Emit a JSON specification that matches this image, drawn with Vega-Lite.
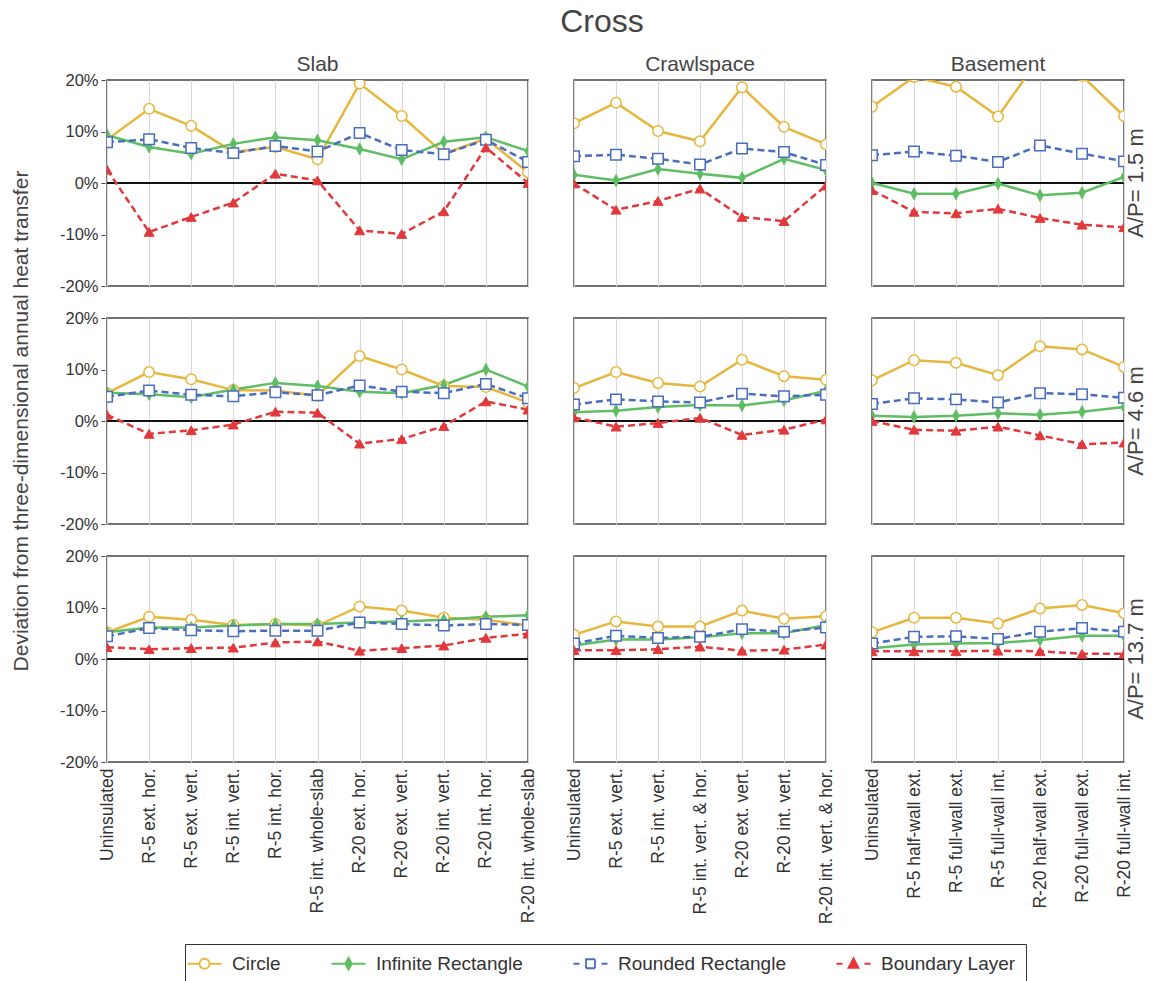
{
  "$schema": "https://vega.github.io/schema/vega-lite/v6.json",
  "background": "white",
  "padding": {"left": 10, "right": 0, "top": 6, "bottom": 0},
  "title": {"text": "Cross", "fontSize": 32, "fontWeight": "normal", "color": "#444", "anchor": "middle", "offset": 15, "dx": 23},
  "data": {"values": [
    {"f":"Slab","ap":1.5,"s":"Circle","c":"Uninsulated","v":8.4},
    {"f":"Slab","ap":1.5,"s":"Circle","c":"R-5 ext. hor.","v":14.4},
    {"f":"Slab","ap":1.5,"s":"Circle","c":"R-5 ext. vert.","v":11.1},
    {"f":"Slab","ap":1.5,"s":"Circle","c":"R-5 int. vert.","v":6.0},
    {"f":"Slab","ap":1.5,"s":"Circle","c":"R-5 int. hor.","v":7.0},
    {"f":"Slab","ap":1.5,"s":"Circle","c":"R-5 int. whole-slab","v":4.6},
    {"f":"Slab","ap":1.5,"s":"Circle","c":"R-20 ext. hor.","v":19.3},
    {"f":"Slab","ap":1.5,"s":"Circle","c":"R-20 ext. vert.","v":13.0},
    {"f":"Slab","ap":1.5,"s":"Circle","c":"R-20 int. vert.","v":5.7},
    {"f":"Slab","ap":1.5,"s":"Circle","c":"R-20 int. hor.","v":8.6},
    {"f":"Slab","ap":1.5,"s":"Circle","c":"R-20 int. whole-slab","v":2.1},
    {"f":"Slab","ap":1.5,"s":"Infinite Rectangle","c":"Uninsulated","v":9.3},
    {"f":"Slab","ap":1.5,"s":"Infinite Rectangle","c":"R-5 ext. hor.","v":7.0},
    {"f":"Slab","ap":1.5,"s":"Infinite Rectangle","c":"R-5 ext. vert.","v":5.7},
    {"f":"Slab","ap":1.5,"s":"Infinite Rectangle","c":"R-5 int. vert.","v":7.6},
    {"f":"Slab","ap":1.5,"s":"Infinite Rectangle","c":"R-5 int. hor.","v":8.9},
    {"f":"Slab","ap":1.5,"s":"Infinite Rectangle","c":"R-5 int. whole-slab","v":8.3},
    {"f":"Slab","ap":1.5,"s":"Infinite Rectangle","c":"R-20 ext. hor.","v":6.6},
    {"f":"Slab","ap":1.5,"s":"Infinite Rectangle","c":"R-20 ext. vert.","v":4.6},
    {"f":"Slab","ap":1.5,"s":"Infinite Rectangle","c":"R-20 int. vert.","v":8.0},
    {"f":"Slab","ap":1.5,"s":"Infinite Rectangle","c":"R-20 int. hor.","v":8.9},
    {"f":"Slab","ap":1.5,"s":"Infinite Rectangle","c":"R-20 int. whole-slab","v":6.2},
    {"f":"Slab","ap":1.5,"s":"Rounded Rectangle","c":"Uninsulated","v":7.9},
    {"f":"Slab","ap":1.5,"s":"Rounded Rectangle","c":"R-5 ext. hor.","v":8.5},
    {"f":"Slab","ap":1.5,"s":"Rounded Rectangle","c":"R-5 ext. vert.","v":6.8},
    {"f":"Slab","ap":1.5,"s":"Rounded Rectangle","c":"R-5 int. vert.","v":5.8},
    {"f":"Slab","ap":1.5,"s":"Rounded Rectangle","c":"R-5 int. hor.","v":7.2},
    {"f":"Slab","ap":1.5,"s":"Rounded Rectangle","c":"R-5 int. whole-slab","v":6.1},
    {"f":"Slab","ap":1.5,"s":"Rounded Rectangle","c":"R-20 ext. hor.","v":9.7},
    {"f":"Slab","ap":1.5,"s":"Rounded Rectangle","c":"R-20 ext. vert.","v":6.4},
    {"f":"Slab","ap":1.5,"s":"Rounded Rectangle","c":"R-20 int. vert.","v":5.6},
    {"f":"Slab","ap":1.5,"s":"Rounded Rectangle","c":"R-20 int. hor.","v":8.4},
    {"f":"Slab","ap":1.5,"s":"Rounded Rectangle","c":"R-20 int. whole-slab","v":4.1},
    {"f":"Slab","ap":1.5,"s":"Boundary Layer","c":"Uninsulated","v":2.6},
    {"f":"Slab","ap":1.5,"s":"Boundary Layer","c":"R-5 ext. hor.","v":-9.5},
    {"f":"Slab","ap":1.5,"s":"Boundary Layer","c":"R-5 ext. vert.","v":-6.6},
    {"f":"Slab","ap":1.5,"s":"Boundary Layer","c":"R-5 int. vert.","v":-3.8},
    {"f":"Slab","ap":1.5,"s":"Boundary Layer","c":"R-5 int. hor.","v":1.8},
    {"f":"Slab","ap":1.5,"s":"Boundary Layer","c":"R-5 int. whole-slab","v":0.5},
    {"f":"Slab","ap":1.5,"s":"Boundary Layer","c":"R-20 ext. hor.","v":-9.2},
    {"f":"Slab","ap":1.5,"s":"Boundary Layer","c":"R-20 ext. vert.","v":-9.9},
    {"f":"Slab","ap":1.5,"s":"Boundary Layer","c":"R-20 int. vert.","v":-5.5},
    {"f":"Slab","ap":1.5,"s":"Boundary Layer","c":"R-20 int. hor.","v":6.9},
    {"f":"Slab","ap":1.5,"s":"Boundary Layer","c":"R-20 int. whole-slab","v":0.0},

    {"f":"Slab","ap":4.6,"s":"Circle","c":"Uninsulated","v":5.4},
    {"f":"Slab","ap":4.6,"s":"Circle","c":"R-5 ext. hor.","v":9.5},
    {"f":"Slab","ap":4.6,"s":"Circle","c":"R-5 ext. vert.","v":8.1},
    {"f":"Slab","ap":4.6,"s":"Circle","c":"R-5 int. vert.","v":6.0},
    {"f":"Slab","ap":4.6,"s":"Circle","c":"R-5 int. hor.","v":5.9},
    {"f":"Slab","ap":4.6,"s":"Circle","c":"R-5 int. whole-slab","v":4.9},
    {"f":"Slab","ap":4.6,"s":"Circle","c":"R-20 ext. hor.","v":12.6},
    {"f":"Slab","ap":4.6,"s":"Circle","c":"R-20 ext. vert.","v":10.0},
    {"f":"Slab","ap":4.6,"s":"Circle","c":"R-20 int. vert.","v":6.8},
    {"f":"Slab","ap":4.6,"s":"Circle","c":"R-20 int. hor.","v":6.6},
    {"f":"Slab","ap":4.6,"s":"Circle","c":"R-20 int. whole-slab","v":3.6},
    {"f":"Slab","ap":4.6,"s":"Infinite Rectangle","c":"Uninsulated","v":5.5},
    {"f":"Slab","ap":4.6,"s":"Infinite Rectangle","c":"R-5 ext. hor.","v":5.2},
    {"f":"Slab","ap":4.6,"s":"Infinite Rectangle","c":"R-5 ext. vert.","v":4.6},
    {"f":"Slab","ap":4.6,"s":"Infinite Rectangle","c":"R-5 int. vert.","v":6.1},
    {"f":"Slab","ap":4.6,"s":"Infinite Rectangle","c":"R-5 int. hor.","v":7.4},
    {"f":"Slab","ap":4.6,"s":"Infinite Rectangle","c":"R-5 int. whole-slab","v":6.8},
    {"f":"Slab","ap":4.6,"s":"Infinite Rectangle","c":"R-20 ext. hor.","v":5.7},
    {"f":"Slab","ap":4.6,"s":"Infinite Rectangle","c":"R-20 ext. vert.","v":5.4},
    {"f":"Slab","ap":4.6,"s":"Infinite Rectangle","c":"R-20 int. vert.","v":7.0},
    {"f":"Slab","ap":4.6,"s":"Infinite Rectangle","c":"R-20 int. hor.","v":10.0},
    {"f":"Slab","ap":4.6,"s":"Infinite Rectangle","c":"R-20 int. whole-slab","v":6.7},
    {"f":"Slab","ap":4.6,"s":"Rounded Rectangle","c":"Uninsulated","v":4.7},
    {"f":"Slab","ap":4.6,"s":"Rounded Rectangle","c":"R-5 ext. hor.","v":5.9},
    {"f":"Slab","ap":4.6,"s":"Rounded Rectangle","c":"R-5 ext. vert.","v":5.1},
    {"f":"Slab","ap":4.6,"s":"Rounded Rectangle","c":"R-5 int. vert.","v":4.8},
    {"f":"Slab","ap":4.6,"s":"Rounded Rectangle","c":"R-5 int. hor.","v":5.6},
    {"f":"Slab","ap":4.6,"s":"Rounded Rectangle","c":"R-5 int. whole-slab","v":5.0},
    {"f":"Slab","ap":4.6,"s":"Rounded Rectangle","c":"R-20 ext. hor.","v":6.9},
    {"f":"Slab","ap":4.6,"s":"Rounded Rectangle","c":"R-20 ext. vert.","v":5.7},
    {"f":"Slab","ap":4.6,"s":"Rounded Rectangle","c":"R-20 int. vert.","v":5.4},
    {"f":"Slab","ap":4.6,"s":"Rounded Rectangle","c":"R-20 int. hor.","v":7.2},
    {"f":"Slab","ap":4.6,"s":"Rounded Rectangle","c":"R-20 int. whole-slab","v":4.4},
    {"f":"Slab","ap":4.6,"s":"Boundary Layer","c":"Uninsulated","v":1.2},
    {"f":"Slab","ap":4.6,"s":"Boundary Layer","c":"R-5 ext. hor.","v":-2.5},
    {"f":"Slab","ap":4.6,"s":"Boundary Layer","c":"R-5 ext. vert.","v":-1.8},
    {"f":"Slab","ap":4.6,"s":"Boundary Layer","c":"R-5 int. vert.","v":-0.7},
    {"f":"Slab","ap":4.6,"s":"Boundary Layer","c":"R-5 int. hor.","v":1.8},
    {"f":"Slab","ap":4.6,"s":"Boundary Layer","c":"R-5 int. whole-slab","v":1.6},
    {"f":"Slab","ap":4.6,"s":"Boundary Layer","c":"R-20 ext. hor.","v":-4.4},
    {"f":"Slab","ap":4.6,"s":"Boundary Layer","c":"R-20 ext. vert.","v":-3.5},
    {"f":"Slab","ap":4.6,"s":"Boundary Layer","c":"R-20 int. vert.","v":-1.0},
    {"f":"Slab","ap":4.6,"s":"Boundary Layer","c":"R-20 int. hor.","v":3.8},
    {"f":"Slab","ap":4.6,"s":"Boundary Layer","c":"R-20 int. whole-slab","v":2.2},

    {"f":"Slab","ap":13.7,"s":"Circle","c":"Uninsulated","v":5.2},
    {"f":"Slab","ap":13.7,"s":"Circle","c":"R-5 ext. hor.","v":8.2},
    {"f":"Slab","ap":13.7,"s":"Circle","c":"R-5 ext. vert.","v":7.6},
    {"f":"Slab","ap":13.7,"s":"Circle","c":"R-5 int. vert.","v":6.6},
    {"f":"Slab","ap":13.7,"s":"Circle","c":"R-5 int. hor.","v":6.8},
    {"f":"Slab","ap":13.7,"s":"Circle","c":"R-5 int. whole-slab","v":6.5},
    {"f":"Slab","ap":13.7,"s":"Circle","c":"R-20 ext. hor.","v":10.2},
    {"f":"Slab","ap":13.7,"s":"Circle","c":"R-20 ext. vert.","v":9.4},
    {"f":"Slab","ap":13.7,"s":"Circle","c":"R-20 int. vert.","v":8.0},
    {"f":"Slab","ap":13.7,"s":"Circle","c":"R-20 int. hor.","v":7.6},
    {"f":"Slab","ap":13.7,"s":"Circle","c":"R-20 int. whole-slab","v":6.5},
    {"f":"Slab","ap":13.7,"s":"Infinite Rectangle","c":"Uninsulated","v":5.2},
    {"f":"Slab","ap":13.7,"s":"Infinite Rectangle","c":"R-5 ext. hor.","v":6.1},
    {"f":"Slab","ap":13.7,"s":"Infinite Rectangle","c":"R-5 ext. vert.","v":6.1},
    {"f":"Slab","ap":13.7,"s":"Infinite Rectangle","c":"R-5 int. vert.","v":6.5},
    {"f":"Slab","ap":13.7,"s":"Infinite Rectangle","c":"R-5 int. hor.","v":6.8},
    {"f":"Slab","ap":13.7,"s":"Infinite Rectangle","c":"R-5 int. whole-slab","v":6.8},
    {"f":"Slab","ap":13.7,"s":"Infinite Rectangle","c":"R-20 ext. hor.","v":7.1},
    {"f":"Slab","ap":13.7,"s":"Infinite Rectangle","c":"R-20 ext. vert.","v":7.3},
    {"f":"Slab","ap":13.7,"s":"Infinite Rectangle","c":"R-20 int. vert.","v":7.6},
    {"f":"Slab","ap":13.7,"s":"Infinite Rectangle","c":"R-20 int. hor.","v":8.2},
    {"f":"Slab","ap":13.7,"s":"Infinite Rectangle","c":"R-20 int. whole-slab","v":8.5},
    {"f":"Slab","ap":13.7,"s":"Rounded Rectangle","c":"Uninsulated","v":4.4},
    {"f":"Slab","ap":13.7,"s":"Rounded Rectangle","c":"R-5 ext. hor.","v":6.0},
    {"f":"Slab","ap":13.7,"s":"Rounded Rectangle","c":"R-5 ext. vert.","v":5.6},
    {"f":"Slab","ap":13.7,"s":"Rounded Rectangle","c":"R-5 int. vert.","v":5.4},
    {"f":"Slab","ap":13.7,"s":"Rounded Rectangle","c":"R-5 int. hor.","v":5.5},
    {"f":"Slab","ap":13.7,"s":"Rounded Rectangle","c":"R-5 int. whole-slab","v":5.5},
    {"f":"Slab","ap":13.7,"s":"Rounded Rectangle","c":"R-20 ext. hor.","v":7.1},
    {"f":"Slab","ap":13.7,"s":"Rounded Rectangle","c":"R-20 ext. vert.","v":6.8},
    {"f":"Slab","ap":13.7,"s":"Rounded Rectangle","c":"R-20 int. vert.","v":6.5},
    {"f":"Slab","ap":13.7,"s":"Rounded Rectangle","c":"R-20 int. hor.","v":6.8},
    {"f":"Slab","ap":13.7,"s":"Rounded Rectangle","c":"R-20 int. whole-slab","v":6.6},
    {"f":"Slab","ap":13.7,"s":"Boundary Layer","c":"Uninsulated","v":2.3},
    {"f":"Slab","ap":13.7,"s":"Boundary Layer","c":"R-5 ext. hor.","v":1.9},
    {"f":"Slab","ap":13.7,"s":"Boundary Layer","c":"R-5 ext. vert.","v":2.1},
    {"f":"Slab","ap":13.7,"s":"Boundary Layer","c":"R-5 int. vert.","v":2.2},
    {"f":"Slab","ap":13.7,"s":"Boundary Layer","c":"R-5 int. hor.","v":3.2},
    {"f":"Slab","ap":13.7,"s":"Boundary Layer","c":"R-5 int. whole-slab","v":3.4},
    {"f":"Slab","ap":13.7,"s":"Boundary Layer","c":"R-20 ext. hor.","v":1.6},
    {"f":"Slab","ap":13.7,"s":"Boundary Layer","c":"R-20 ext. vert.","v":2.1},
    {"f":"Slab","ap":13.7,"s":"Boundary Layer","c":"R-20 int. vert.","v":2.6},
    {"f":"Slab","ap":13.7,"s":"Boundary Layer","c":"R-20 int. hor.","v":4.1},
    {"f":"Slab","ap":13.7,"s":"Boundary Layer","c":"R-20 int. whole-slab","v":4.9},

    {"f":"Crawlspace","ap":1.5,"s":"Circle","c":"Uninsulated","v":11.6},
    {"f":"Crawlspace","ap":1.5,"s":"Circle","c":"R-5 ext. vert.","v":15.6},
    {"f":"Crawlspace","ap":1.5,"s":"Circle","c":"R-5 int. vert.","v":10.1},
    {"f":"Crawlspace","ap":1.5,"s":"Circle","c":"R-5 int. vert. & hor.","v":8.1},
    {"f":"Crawlspace","ap":1.5,"s":"Circle","c":"R-20 ext. vert.","v":18.6},
    {"f":"Crawlspace","ap":1.5,"s":"Circle","c":"R-20 int. vert.","v":10.9},
    {"f":"Crawlspace","ap":1.5,"s":"Circle","c":"R-20 int. vert. & hor.","v":7.5},
    {"f":"Crawlspace","ap":1.5,"s":"Infinite Rectangle","c":"Uninsulated","v":1.6},
    {"f":"Crawlspace","ap":1.5,"s":"Infinite Rectangle","c":"R-5 ext. vert.","v":0.5},
    {"f":"Crawlspace","ap":1.5,"s":"Infinite Rectangle","c":"R-5 int. vert.","v":2.7},
    {"f":"Crawlspace","ap":1.5,"s":"Infinite Rectangle","c":"R-5 int. vert. & hor.","v":1.8},
    {"f":"Crawlspace","ap":1.5,"s":"Infinite Rectangle","c":"R-20 ext. vert.","v":1.0},
    {"f":"Crawlspace","ap":1.5,"s":"Infinite Rectangle","c":"R-20 int. vert.","v":4.7},
    {"f":"Crawlspace","ap":1.5,"s":"Infinite Rectangle","c":"R-20 int. vert. & hor.","v":2.5},
    {"f":"Crawlspace","ap":1.5,"s":"Rounded Rectangle","c":"Uninsulated","v":5.2},
    {"f":"Crawlspace","ap":1.5,"s":"Rounded Rectangle","c":"R-5 ext. vert.","v":5.5},
    {"f":"Crawlspace","ap":1.5,"s":"Rounded Rectangle","c":"R-5 int. vert.","v":4.7},
    {"f":"Crawlspace","ap":1.5,"s":"Rounded Rectangle","c":"R-5 int. vert. & hor.","v":3.6},
    {"f":"Crawlspace","ap":1.5,"s":"Rounded Rectangle","c":"R-20 ext. vert.","v":6.7},
    {"f":"Crawlspace","ap":1.5,"s":"Rounded Rectangle","c":"R-20 int. vert.","v":6.0},
    {"f":"Crawlspace","ap":1.5,"s":"Rounded Rectangle","c":"R-20 int. vert. & hor.","v":3.5},
    {"f":"Crawlspace","ap":1.5,"s":"Boundary Layer","c":"Uninsulated","v":-0.1},
    {"f":"Crawlspace","ap":1.5,"s":"Boundary Layer","c":"R-5 ext. vert.","v":-5.2},
    {"f":"Crawlspace","ap":1.5,"s":"Boundary Layer","c":"R-5 int. vert.","v":-3.5},
    {"f":"Crawlspace","ap":1.5,"s":"Boundary Layer","c":"R-5 int. vert. & hor.","v":-1.1},
    {"f":"Crawlspace","ap":1.5,"s":"Boundary Layer","c":"R-20 ext. vert.","v":-6.6},
    {"f":"Crawlspace","ap":1.5,"s":"Boundary Layer","c":"R-20 int. vert.","v":-7.4},
    {"f":"Crawlspace","ap":1.5,"s":"Boundary Layer","c":"R-20 int. vert. & hor.","v":-0.5},

    {"f":"Crawlspace","ap":4.6,"s":"Circle","c":"Uninsulated","v":6.4},
    {"f":"Crawlspace","ap":4.6,"s":"Circle","c":"R-5 ext. vert.","v":9.5},
    {"f":"Crawlspace","ap":4.6,"s":"Circle","c":"R-5 int. vert.","v":7.4},
    {"f":"Crawlspace","ap":4.6,"s":"Circle","c":"R-5 int. vert. & hor.","v":6.7},
    {"f":"Crawlspace","ap":4.6,"s":"Circle","c":"R-20 ext. vert.","v":11.9},
    {"f":"Crawlspace","ap":4.6,"s":"Circle","c":"R-20 int. vert.","v":8.7},
    {"f":"Crawlspace","ap":4.6,"s":"Circle","c":"R-20 int. vert. & hor.","v":8.0},
    {"f":"Crawlspace","ap":4.6,"s":"Infinite Rectangle","c":"Uninsulated","v":1.7},
    {"f":"Crawlspace","ap":4.6,"s":"Infinite Rectangle","c":"R-5 ext. vert.","v":2.0},
    {"f":"Crawlspace","ap":4.6,"s":"Infinite Rectangle","c":"R-5 int. vert.","v":2.7},
    {"f":"Crawlspace","ap":4.6,"s":"Infinite Rectangle","c":"R-5 int. vert. & hor.","v":3.1},
    {"f":"Crawlspace","ap":4.6,"s":"Infinite Rectangle","c":"R-20 ext. vert.","v":3.0},
    {"f":"Crawlspace","ap":4.6,"s":"Infinite Rectangle","c":"R-20 int. vert.","v":4.0},
    {"f":"Crawlspace","ap":4.6,"s":"Infinite Rectangle","c":"R-20 int. vert. & hor.","v":5.9},
    {"f":"Crawlspace","ap":4.6,"s":"Rounded Rectangle","c":"Uninsulated","v":3.2},
    {"f":"Crawlspace","ap":4.6,"s":"Rounded Rectangle","c":"R-5 ext. vert.","v":4.2},
    {"f":"Crawlspace","ap":4.6,"s":"Rounded Rectangle","c":"R-5 int. vert.","v":3.8},
    {"f":"Crawlspace","ap":4.6,"s":"Rounded Rectangle","c":"R-5 int. vert. & hor.","v":3.6},
    {"f":"Crawlspace","ap":4.6,"s":"Rounded Rectangle","c":"R-20 ext. vert.","v":5.3},
    {"f":"Crawlspace","ap":4.6,"s":"Rounded Rectangle","c":"R-20 int. vert.","v":4.8},
    {"f":"Crawlspace","ap":4.6,"s":"Rounded Rectangle","c":"R-20 int. vert. & hor.","v":5.1},
    {"f":"Crawlspace","ap":4.6,"s":"Boundary Layer","c":"Uninsulated","v":0.7},
    {"f":"Crawlspace","ap":4.6,"s":"Boundary Layer","c":"R-5 ext. vert.","v":-1.1},
    {"f":"Crawlspace","ap":4.6,"s":"Boundary Layer","c":"R-5 int. vert.","v":-0.4},
    {"f":"Crawlspace","ap":4.6,"s":"Boundary Layer","c":"R-5 int. vert. & hor.","v":0.6},
    {"f":"Crawlspace","ap":4.6,"s":"Boundary Layer","c":"R-20 ext. vert.","v":-2.7},
    {"f":"Crawlspace","ap":4.6,"s":"Boundary Layer","c":"R-20 int. vert.","v":-1.7},
    {"f":"Crawlspace","ap":4.6,"s":"Boundary Layer","c":"R-20 int. vert. & hor.","v":0.3},

    {"f":"Crawlspace","ap":13.7,"s":"Circle","c":"Uninsulated","v":4.7},
    {"f":"Crawlspace","ap":13.7,"s":"Circle","c":"R-5 ext. vert.","v":7.3},
    {"f":"Crawlspace","ap":13.7,"s":"Circle","c":"R-5 int. vert.","v":6.3},
    {"f":"Crawlspace","ap":13.7,"s":"Circle","c":"R-5 int. vert. & hor.","v":6.3},
    {"f":"Crawlspace","ap":13.7,"s":"Circle","c":"R-20 ext. vert.","v":9.4},
    {"f":"Crawlspace","ap":13.7,"s":"Circle","c":"R-20 int. vert.","v":7.8},
    {"f":"Crawlspace","ap":13.7,"s":"Circle","c":"R-20 int. vert. & hor.","v":8.3},
    {"f":"Crawlspace","ap":13.7,"s":"Infinite Rectangle","c":"Uninsulated","v":2.6},
    {"f":"Crawlspace","ap":13.7,"s":"Infinite Rectangle","c":"R-5 ext. vert.","v":3.8},
    {"f":"Crawlspace","ap":13.7,"s":"Infinite Rectangle","c":"R-5 int. vert.","v":3.8},
    {"f":"Crawlspace","ap":13.7,"s":"Infinite Rectangle","c":"R-5 int. vert. & hor.","v":4.2},
    {"f":"Crawlspace","ap":13.7,"s":"Infinite Rectangle","c":"R-20 ext. vert.","v":5.0},
    {"f":"Crawlspace","ap":13.7,"s":"Infinite Rectangle","c":"R-20 int. vert.","v":5.0},
    {"f":"Crawlspace","ap":13.7,"s":"Infinite Rectangle","c":"R-20 int. vert. & hor.","v":6.6},
    {"f":"Crawlspace","ap":13.7,"s":"Rounded Rectangle","c":"Uninsulated","v":3.0},
    {"f":"Crawlspace","ap":13.7,"s":"Rounded Rectangle","c":"R-5 ext. vert.","v":4.5},
    {"f":"Crawlspace","ap":13.7,"s":"Rounded Rectangle","c":"R-5 int. vert.","v":4.1},
    {"f":"Crawlspace","ap":13.7,"s":"Rounded Rectangle","c":"R-5 int. vert. & hor.","v":4.3},
    {"f":"Crawlspace","ap":13.7,"s":"Rounded Rectangle","c":"R-20 ext. vert.","v":5.8},
    {"f":"Crawlspace","ap":13.7,"s":"Rounded Rectangle","c":"R-20 int. vert.","v":5.3},
    {"f":"Crawlspace","ap":13.7,"s":"Rounded Rectangle","c":"R-20 int. vert. & hor.","v":6.1},
    {"f":"Crawlspace","ap":13.7,"s":"Boundary Layer","c":"Uninsulated","v":1.7},
    {"f":"Crawlspace","ap":13.7,"s":"Boundary Layer","c":"R-5 ext. vert.","v":1.7},
    {"f":"Crawlspace","ap":13.7,"s":"Boundary Layer","c":"R-5 int. vert.","v":1.9},
    {"f":"Crawlspace","ap":13.7,"s":"Boundary Layer","c":"R-5 int. vert. & hor.","v":2.4},
    {"f":"Crawlspace","ap":13.7,"s":"Boundary Layer","c":"R-20 ext. vert.","v":1.6},
    {"f":"Crawlspace","ap":13.7,"s":"Boundary Layer","c":"R-20 int. vert.","v":1.8},
    {"f":"Crawlspace","ap":13.7,"s":"Boundary Layer","c":"R-20 int. vert. & hor.","v":2.8},

    {"f":"Basement","ap":1.5,"s":"Circle","c":"Uninsulated","v":14.8},
    {"f":"Basement","ap":1.5,"s":"Circle","c":"R-5 half-wall ext.","v":20.6},
    {"f":"Basement","ap":1.5,"s":"Circle","c":"R-5 full-wall ext.","v":18.7},
    {"f":"Basement","ap":1.5,"s":"Circle","c":"R-5 full-wall int.","v":12.9},
    {"f":"Basement","ap":1.5,"s":"Circle","c":"R-20 half-wall ext.","v":24.5},
    {"f":"Basement","ap":1.5,"s":"Circle","c":"R-20 full-wall ext.","v":20.8},
    {"f":"Basement","ap":1.5,"s":"Circle","c":"R-20 full-wall int.","v":13.0},
    {"f":"Basement","ap":1.5,"s":"Infinite Rectangle","c":"Uninsulated","v":0.0},
    {"f":"Basement","ap":1.5,"s":"Infinite Rectangle","c":"R-5 half-wall ext.","v":-2.1},
    {"f":"Basement","ap":1.5,"s":"Infinite Rectangle","c":"R-5 full-wall ext.","v":-2.1},
    {"f":"Basement","ap":1.5,"s":"Infinite Rectangle","c":"R-5 full-wall int.","v":-0.1},
    {"f":"Basement","ap":1.5,"s":"Infinite Rectangle","c":"R-20 half-wall ext.","v":-2.4},
    {"f":"Basement","ap":1.5,"s":"Infinite Rectangle","c":"R-20 full-wall ext.","v":-1.9},
    {"f":"Basement","ap":1.5,"s":"Infinite Rectangle","c":"R-20 full-wall int.","v":1.2},
    {"f":"Basement","ap":1.5,"s":"Rounded Rectangle","c":"Uninsulated","v":5.4},
    {"f":"Basement","ap":1.5,"s":"Rounded Rectangle","c":"R-5 half-wall ext.","v":6.1},
    {"f":"Basement","ap":1.5,"s":"Rounded Rectangle","c":"R-5 full-wall ext.","v":5.3},
    {"f":"Basement","ap":1.5,"s":"Rounded Rectangle","c":"R-5 full-wall int.","v":4.1},
    {"f":"Basement","ap":1.5,"s":"Rounded Rectangle","c":"R-20 half-wall ext.","v":7.3},
    {"f":"Basement","ap":1.5,"s":"Rounded Rectangle","c":"R-20 full-wall ext.","v":5.7},
    {"f":"Basement","ap":1.5,"s":"Rounded Rectangle","c":"R-20 full-wall int.","v":4.2},
    {"f":"Basement","ap":1.5,"s":"Boundary Layer","c":"Uninsulated","v":-1.4},
    {"f":"Basement","ap":1.5,"s":"Boundary Layer","c":"R-5 half-wall ext.","v":-5.6},
    {"f":"Basement","ap":1.5,"s":"Boundary Layer","c":"R-5 full-wall ext.","v":-5.9},
    {"f":"Basement","ap":1.5,"s":"Boundary Layer","c":"R-5 full-wall int.","v":-5.0},
    {"f":"Basement","ap":1.5,"s":"Boundary Layer","c":"R-20 half-wall ext.","v":-6.8},
    {"f":"Basement","ap":1.5,"s":"Boundary Layer","c":"R-20 full-wall ext.","v":-8.1},
    {"f":"Basement","ap":1.5,"s":"Boundary Layer","c":"R-20 full-wall int.","v":-8.6},

    {"f":"Basement","ap":4.6,"s":"Circle","c":"Uninsulated","v":7.9},
    {"f":"Basement","ap":4.6,"s":"Circle","c":"R-5 half-wall ext.","v":11.8},
    {"f":"Basement","ap":4.6,"s":"Circle","c":"R-5 full-wall ext.","v":11.3},
    {"f":"Basement","ap":4.6,"s":"Circle","c":"R-5 full-wall int.","v":8.9},
    {"f":"Basement","ap":4.6,"s":"Circle","c":"R-20 half-wall ext.","v":14.5},
    {"f":"Basement","ap":4.6,"s":"Circle","c":"R-20 full-wall ext.","v":13.9},
    {"f":"Basement","ap":4.6,"s":"Circle","c":"R-20 full-wall int.","v":10.5},
    {"f":"Basement","ap":4.6,"s":"Infinite Rectangle","c":"Uninsulated","v":1.0},
    {"f":"Basement","ap":4.6,"s":"Infinite Rectangle","c":"R-5 half-wall ext.","v":0.8},
    {"f":"Basement","ap":4.6,"s":"Infinite Rectangle","c":"R-5 full-wall ext.","v":1.0},
    {"f":"Basement","ap":4.6,"s":"Infinite Rectangle","c":"R-5 full-wall int.","v":1.5},
    {"f":"Basement","ap":4.6,"s":"Infinite Rectangle","c":"R-20 half-wall ext.","v":1.2},
    {"f":"Basement","ap":4.6,"s":"Infinite Rectangle","c":"R-20 full-wall ext.","v":1.8},
    {"f":"Basement","ap":4.6,"s":"Infinite Rectangle","c":"R-20 full-wall int.","v":2.7},
    {"f":"Basement","ap":4.6,"s":"Rounded Rectangle","c":"Uninsulated","v":3.3},
    {"f":"Basement","ap":4.6,"s":"Rounded Rectangle","c":"R-5 half-wall ext.","v":4.4},
    {"f":"Basement","ap":4.6,"s":"Rounded Rectangle","c":"R-5 full-wall ext.","v":4.2},
    {"f":"Basement","ap":4.6,"s":"Rounded Rectangle","c":"R-5 full-wall int.","v":3.6},
    {"f":"Basement","ap":4.6,"s":"Rounded Rectangle","c":"R-20 half-wall ext.","v":5.4},
    {"f":"Basement","ap":4.6,"s":"Rounded Rectangle","c":"R-20 full-wall ext.","v":5.2},
    {"f":"Basement","ap":4.6,"s":"Rounded Rectangle","c":"R-20 full-wall int.","v":4.5},
    {"f":"Basement","ap":4.6,"s":"Boundary Layer","c":"Uninsulated","v":0.0},
    {"f":"Basement","ap":4.6,"s":"Boundary Layer","c":"R-5 half-wall ext.","v":-1.7},
    {"f":"Basement","ap":4.6,"s":"Boundary Layer","c":"R-5 full-wall ext.","v":-1.9},
    {"f":"Basement","ap":4.6,"s":"Boundary Layer","c":"R-5 full-wall int.","v":-1.1},
    {"f":"Basement","ap":4.6,"s":"Boundary Layer","c":"R-20 half-wall ext.","v":-2.8},
    {"f":"Basement","ap":4.6,"s":"Boundary Layer","c":"R-20 full-wall ext.","v":-4.5},
    {"f":"Basement","ap":4.6,"s":"Boundary Layer","c":"R-20 full-wall int.","v":-4.2},

    {"f":"Basement","ap":13.7,"s":"Circle","c":"Uninsulated","v":5.2},
    {"f":"Basement","ap":13.7,"s":"Circle","c":"R-5 half-wall ext.","v":8.0},
    {"f":"Basement","ap":13.7,"s":"Circle","c":"R-5 full-wall ext.","v":8.0},
    {"f":"Basement","ap":13.7,"s":"Circle","c":"R-5 full-wall int.","v":6.9},
    {"f":"Basement","ap":13.7,"s":"Circle","c":"R-20 half-wall ext.","v":9.8},
    {"f":"Basement","ap":13.7,"s":"Circle","c":"R-20 full-wall ext.","v":10.5},
    {"f":"Basement","ap":13.7,"s":"Circle","c":"R-20 full-wall int.","v":8.9},
    {"f":"Basement","ap":13.7,"s":"Infinite Rectangle","c":"Uninsulated","v":2.1},
    {"f":"Basement","ap":13.7,"s":"Infinite Rectangle","c":"R-5 half-wall ext.","v":2.8},
    {"f":"Basement","ap":13.7,"s":"Infinite Rectangle","c":"R-5 full-wall ext.","v":3.0},
    {"f":"Basement","ap":13.7,"s":"Infinite Rectangle","c":"R-5 full-wall int.","v":3.1},
    {"f":"Basement","ap":13.7,"s":"Infinite Rectangle","c":"R-20 half-wall ext.","v":3.7},
    {"f":"Basement","ap":13.7,"s":"Infinite Rectangle","c":"R-20 full-wall ext.","v":4.5},
    {"f":"Basement","ap":13.7,"s":"Infinite Rectangle","c":"R-20 full-wall int.","v":4.5},
    {"f":"Basement","ap":13.7,"s":"Rounded Rectangle","c":"Uninsulated","v":3.0},
    {"f":"Basement","ap":13.7,"s":"Rounded Rectangle","c":"R-5 half-wall ext.","v":4.3},
    {"f":"Basement","ap":13.7,"s":"Rounded Rectangle","c":"R-5 full-wall ext.","v":4.4},
    {"f":"Basement","ap":13.7,"s":"Rounded Rectangle","c":"R-5 full-wall int.","v":3.9},
    {"f":"Basement","ap":13.7,"s":"Rounded Rectangle","c":"R-20 half-wall ext.","v":5.3},
    {"f":"Basement","ap":13.7,"s":"Rounded Rectangle","c":"R-20 full-wall ext.","v":6.0},
    {"f":"Basement","ap":13.7,"s":"Rounded Rectangle","c":"R-20 full-wall int.","v":5.3},
    {"f":"Basement","ap":13.7,"s":"Boundary Layer","c":"Uninsulated","v":1.5},
    {"f":"Basement","ap":13.7,"s":"Boundary Layer","c":"R-5 half-wall ext.","v":1.5},
    {"f":"Basement","ap":13.7,"s":"Boundary Layer","c":"R-5 full-wall ext.","v":1.5},
    {"f":"Basement","ap":13.7,"s":"Boundary Layer","c":"R-5 full-wall int.","v":1.6},
    {"f":"Basement","ap":13.7,"s":"Boundary Layer","c":"R-20 half-wall ext.","v":1.5},
    {"f":"Basement","ap":13.7,"s":"Boundary Layer","c":"R-20 full-wall ext.","v":1.0},
    {"f":"Basement","ap":13.7,"s":"Boundary Layer","c":"R-20 full-wall int.","v":1.0}
  ]},
  "hconcat": [
    {
      "transform": [{"filter": "datum.f == 'Slab'"}],
      "facet": {
        "column": {"field": "f", "type": "nominal", "title": null},
        "row": {"field": "ap", "type": "ordinal", "sort": "ascending", "title": "Deviation from three-dimensional annual heat transfer", "header": {"labels": false, "titleOrient": "left", "titleFontSize": 21, "titleFontWeight": "normal", "titleColor": "#444", "titlePadding": 17}}
      },
      "spacing": {"row": 30},
      "spec": {
        "width": 421, "height": 206,
        "layer": [
          {"transform": [{"filter": "false"}], "mark": {"type": "point", "filled": true, "opacity": 1, "strokeWidth": 1.8},
           "encoding": {
             "stroke": {"field": "s", "type": "nominal", "scale": {"domain": ["Circle", "Infinite Rectangle", "Rounded Rectangle", "Boundary Layer"], "range": ["#E6B73C", "#5FBE64", "#4A6DBD", "#E2383C"]}, "title": null},
             "fill": {"field": "s", "type": "nominal", "scale": {"domain": ["Circle", "Infinite Rectangle", "Rounded Rectangle", "Boundary Layer"], "range": ["#ffffff", "#5FBE64", "#ffffff", "#E2383C"]}, "title": null},
             "shape": {"field": "s", "type": "nominal", "scale": {"domain": ["Circle", "Infinite Rectangle", "Rounded Rectangle", "Boundary Layer"], "range": ["M-3.4,0H-1M1,0H3.4M1,0A1,1 0 1,1 -1,0A1,1 0 1,1 1,0Z", "M-3.4,0H3.4M0,-1.2L0.65,0L0,1.2L-0.65,0Z", "M-3.4,0H-2.2M2.2,0H3.4M-0.9,-0.9H0.9V0.9H-0.9Z", "M-3.4,0H-2.2M2.2,0H3.4M0,-1.1L1,0.8L-1,0.8Z"]}, "title": null}
           }},
          {"mark": {"type": "rule", "color": "#111", "strokeWidth": 2}, "encoding": {"y": {"datum": 0, "type": "quantitative", "scale": {"domain": [-20, 20]}}}},
          {"transform": [{"filter": "datum.s == 'Circle' || datum.s == 'Infinite Rectangle'"}], "mark": {"type": "line", "strokeWidth": 2.5, "clip": true},
           "encoding": {
             "x": {"field": "c", "type": "nominal", "sort": null, "scale": {"type": "point", "padding": 0}, "axis": {"title": null, "labelAngle": -90, "labelFontSize": 17.5, "labelColor": "#333", "grid": true, "ticks": false, "domain": false, "labelPadding": 5, "labelLimit": 250}},
             "y": {"field": "v", "type": "quantitative", "scale": {"domain": [-20, 20], "nice": false, "zero": false}, "axis": {"title": null, "values": [-20,-15,-10,-5,0,5,10,15,20], "labelExpr": "datum.value + '%'", "labelFontSize": 16.5, "labelColor": "#333", "ticks": true, "tickSize": 4, "tickColor": "#444", "domain": false, "labelPadding": 3}},
             "stroke": {"field": "s", "type": "nominal", "title": null}
           }},
          {"transform": [{"filter": "datum.s == 'Rounded Rectangle' || datum.s == 'Boundary Layer'"}], "mark": {"type": "line", "strokeWidth": 2.5, "strokeDash": [7, 4], "clip": true},
           "encoding": {
             "x": {"field": "c", "type": "nominal", "sort": null},
             "y": {"field": "v", "type": "quantitative"},
             "stroke": {"field": "s", "type": "nominal", "title": null}
           }},
          {"transform": [{"filter": "datum.s == 'Circle'"}], "mark": {"type": "point", "shape": "circle", "filled": true, "fill": "#ffffff", "stroke": "#E6B73C", "size": 110, "strokeWidth": 1.5, "opacity": 1, "clip": true},
           "encoding": {"x": {"field": "c", "type": "nominal", "sort": null}, "y": {"field": "v", "type": "quantitative"}}},
          {"transform": [{"filter": "datum.s == 'Infinite Rectangle'"}], "mark": {"type": "point", "shape": "M0,-1.15L0.6,0L0,1.15L-0.6,0Z", "filled": true, "fill": "#5FBE64", "stroke": "#5FBE64", "size": 110, "strokeWidth": 1, "opacity": 1, "clip": true},
           "encoding": {"x": {"field": "c", "type": "nominal", "sort": null}, "y": {"field": "v", "type": "quantitative"}}},
          {"transform": [{"filter": "datum.s == 'Rounded Rectangle'"}], "mark": {"type": "point", "shape": "square", "filled": true, "fill": "#ffffff", "stroke": "#4A6DBD", "size": 110, "strokeWidth": 1.5, "opacity": 1, "clip": true},
           "encoding": {"x": {"field": "c", "type": "nominal", "sort": null}, "y": {"field": "v", "type": "quantitative"}}},
          {"transform": [{"filter": "datum.s == 'Boundary Layer'"}], "mark": {"type": "point", "shape": "triangle-up", "filled": true, "fill": "#E2383C", "stroke": "#E2383C", "size": 100, "strokeWidth": 1, "opacity": 1, "clip": true},
           "encoding": {"x": {"field": "c", "type": "nominal", "sort": null}, "y": {"field": "v", "type": "quantitative"}}}
        ]
      }
    },
    {
      "transform": [{"filter": "datum.f == 'Crawlspace'"}],
      "facet": {
        "column": {"field": "f", "type": "nominal", "title": null},
        "row": {"field": "ap", "type": "ordinal", "sort": "ascending", "title": null, "header": {"labels": false}}
      },
      "spacing": {"row": 30},
      "spec": {
        "width": 252, "height": 206,
        "layer": [
          {"transform": [{"filter": "false"}], "mark": {"type": "point", "filled": true, "opacity": 1, "strokeWidth": 1.8},
           "encoding": {
             "stroke": {"field": "s", "type": "nominal", "title": null},
             "fill": {"field": "s", "type": "nominal", "title": null},
             "shape": {"field": "s", "type": "nominal", "title": null}
           }},
          {"mark": {"type": "rule", "color": "#111", "strokeWidth": 2}, "encoding": {"y": {"datum": 0, "type": "quantitative", "scale": {"domain": [-20, 20]}}}},
          {"transform": [{"filter": "datum.s == 'Circle' || datum.s == 'Infinite Rectangle'"}], "mark": {"type": "line", "strokeWidth": 2.5, "clip": true},
           "encoding": {
             "x": {"field": "c", "type": "nominal", "sort": null, "scale": {"type": "point", "padding": 0}, "axis": {"title": null, "labelAngle": -90, "labelFontSize": 17.5, "labelColor": "#333", "grid": true, "ticks": false, "domain": false, "labelPadding": 5, "labelLimit": 250}},
             "y": {"field": "v", "type": "quantitative", "scale": {"domain": [-20, 20], "nice": false, "zero": false}, "axis": {"title": null, "values": [-20,-15,-10,-5,0,5,10,15,20], "labels": false, "ticks": false, "domain": false}},
             "stroke": {"field": "s", "type": "nominal", "title": null}
           }},
          {"transform": [{"filter": "datum.s == 'Rounded Rectangle' || datum.s == 'Boundary Layer'"}], "mark": {"type": "line", "strokeWidth": 2.5, "strokeDash": [7, 4], "clip": true},
           "encoding": {
             "x": {"field": "c", "type": "nominal", "sort": null},
             "y": {"field": "v", "type": "quantitative"},
             "stroke": {"field": "s", "type": "nominal", "title": null}
           }},
          {"transform": [{"filter": "datum.s == 'Circle'"}], "mark": {"type": "point", "shape": "circle", "filled": true, "fill": "#ffffff", "stroke": "#E6B73C", "size": 110, "strokeWidth": 1.5, "opacity": 1, "clip": true},
           "encoding": {"x": {"field": "c", "type": "nominal", "sort": null}, "y": {"field": "v", "type": "quantitative"}}},
          {"transform": [{"filter": "datum.s == 'Infinite Rectangle'"}], "mark": {"type": "point", "shape": "M0,-1.15L0.6,0L0,1.15L-0.6,0Z", "filled": true, "fill": "#5FBE64", "stroke": "#5FBE64", "size": 110, "strokeWidth": 1, "opacity": 1, "clip": true},
           "encoding": {"x": {"field": "c", "type": "nominal", "sort": null}, "y": {"field": "v", "type": "quantitative"}}},
          {"transform": [{"filter": "datum.s == 'Rounded Rectangle'"}], "mark": {"type": "point", "shape": "square", "filled": true, "fill": "#ffffff", "stroke": "#4A6DBD", "size": 110, "strokeWidth": 1.5, "opacity": 1, "clip": true},
           "encoding": {"x": {"field": "c", "type": "nominal", "sort": null}, "y": {"field": "v", "type": "quantitative"}}},
          {"transform": [{"filter": "datum.s == 'Boundary Layer'"}], "mark": {"type": "point", "shape": "triangle-up", "filled": true, "fill": "#E2383C", "stroke": "#E2383C", "size": 100, "strokeWidth": 1, "opacity": 1, "clip": true},
           "encoding": {"x": {"field": "c", "type": "nominal", "sort": null}, "y": {"field": "v", "type": "quantitative"}}}
        ]
      }
    },
    {
      "transform": [{"filter": "datum.f == 'Basement'"}],
      "facet": {
        "column": {"field": "f", "type": "nominal", "title": null},
        "row": {"field": "ap", "type": "ordinal", "sort": "ascending", "title": null, "header": {"labelOrient": "right", "labelAngle": -90, "labelExpr": "'A/P= ' + datum.value + ' m'", "labelFontSize": 22, "labelColor": "#444", "labelPadding": -12}}
      },
      "spacing": {"row": 30},
      "spec": {
        "width": 252, "height": 206,
        "layer": [
          {"transform": [{"filter": "false"}], "mark": {"type": "point", "filled": true, "opacity": 1, "strokeWidth": 1.8},
           "encoding": {
             "stroke": {"field": "s", "type": "nominal", "title": null},
             "fill": {"field": "s", "type": "nominal", "title": null},
             "shape": {"field": "s", "type": "nominal", "title": null}
           }},
          {"mark": {"type": "rule", "color": "#111", "strokeWidth": 2}, "encoding": {"y": {"datum": 0, "type": "quantitative", "scale": {"domain": [-20, 20]}}}},
          {"transform": [{"filter": "datum.s == 'Circle' || datum.s == 'Infinite Rectangle'"}], "mark": {"type": "line", "strokeWidth": 2.5, "clip": true},
           "encoding": {
             "x": {"field": "c", "type": "nominal", "sort": null, "scale": {"type": "point", "padding": 0}, "axis": {"title": null, "labelAngle": -90, "labelFontSize": 17.5, "labelColor": "#333", "grid": true, "ticks": false, "domain": false, "labelPadding": 5, "labelLimit": 250}},
             "y": {"field": "v", "type": "quantitative", "scale": {"domain": [-20, 20], "nice": false, "zero": false}, "axis": {"title": null, "values": [-20,-15,-10,-5,0,5,10,15,20], "labels": false, "ticks": false, "domain": false}},
             "stroke": {"field": "s", "type": "nominal", "title": null}
           }},
          {"transform": [{"filter": "datum.s == 'Rounded Rectangle' || datum.s == 'Boundary Layer'"}], "mark": {"type": "line", "strokeWidth": 2.5, "strokeDash": [7, 4], "clip": true},
           "encoding": {
             "x": {"field": "c", "type": "nominal", "sort": null},
             "y": {"field": "v", "type": "quantitative"},
             "stroke": {"field": "s", "type": "nominal", "title": null}
           }},
          {"transform": [{"filter": "datum.s == 'Circle'"}], "mark": {"type": "point", "shape": "circle", "filled": true, "fill": "#ffffff", "stroke": "#E6B73C", "size": 110, "strokeWidth": 1.5, "opacity": 1, "clip": true},
           "encoding": {"x": {"field": "c", "type": "nominal", "sort": null}, "y": {"field": "v", "type": "quantitative"}}},
          {"transform": [{"filter": "datum.s == 'Infinite Rectangle'"}], "mark": {"type": "point", "shape": "M0,-1.15L0.6,0L0,1.15L-0.6,0Z", "filled": true, "fill": "#5FBE64", "stroke": "#5FBE64", "size": 110, "strokeWidth": 1, "opacity": 1, "clip": true},
           "encoding": {"x": {"field": "c", "type": "nominal", "sort": null}, "y": {"field": "v", "type": "quantitative"}}},
          {"transform": [{"filter": "datum.s == 'Rounded Rectangle'"}], "mark": {"type": "point", "shape": "square", "filled": true, "fill": "#ffffff", "stroke": "#4A6DBD", "size": 110, "strokeWidth": 1.5, "opacity": 1, "clip": true},
           "encoding": {"x": {"field": "c", "type": "nominal", "sort": null}, "y": {"field": "v", "type": "quantitative"}}},
          {"transform": [{"filter": "datum.s == 'Boundary Layer'"}], "mark": {"type": "point", "shape": "triangle-up", "filled": true, "fill": "#E2383C", "stroke": "#E2383C", "size": 100, "strokeWidth": 1, "opacity": 1, "clip": true},
           "encoding": {"x": {"field": "c", "type": "nominal", "sort": null}, "y": {"field": "v", "type": "quantitative"}}}
        ]
      }
    }
  ],
  "spacing": 28,
  "resolve": {"scale": {"x": "independent", "y": "independent", "stroke": "shared", "fill": "shared", "shape": "shared"}},
  "config": {
    "font": "Liberation Sans",
    "view": {"stroke": "#444", "strokeWidth": 1.5},
    "axis": {"gridColor": "#d9d9d9", "gridWidth": 1.2},
    "header": {"labelFontSize": 21, "labelColor": "#444", "labelPadding": 4, "titleFontWeight": "normal"},
    "legend": {"orient": "none", "legendX": 78, "legendY": 864, "direction": "horizontal", "labelFontSize": 19, "labelColor": "#333", "symbolSize": 100, "symbolStrokeWidth": 1.8, "symbolOpacity": 1, "symbolDash": [1, 0], "strokeColor": "#333", "padding": 10, "columnPadding": 46, "labelOffset": 18, "labelLimit": 300}
  }
}
